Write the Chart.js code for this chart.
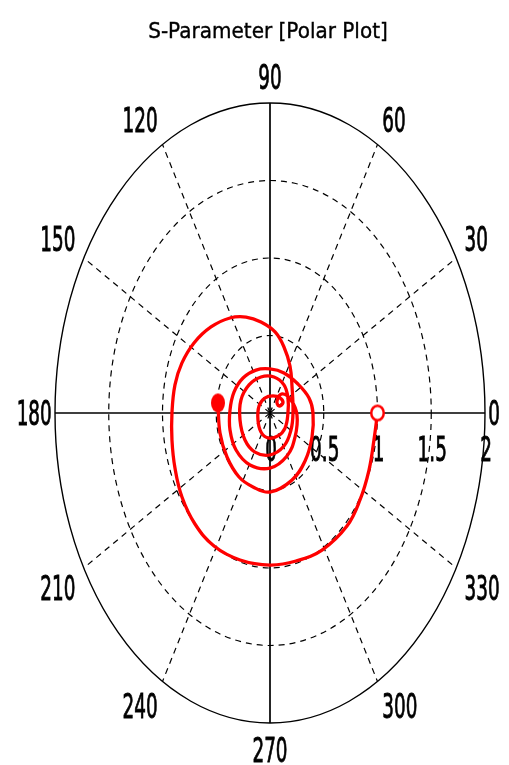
<!DOCTYPE html>
<html>
<head>
<meta charset="utf-8">
<script src="https://cdn.jsdelivr.net/npm/chart.js@4.4.1/dist/chart.umd.min.js"></script>
<style>
  html, body { margin: 0; padding: 0; background: #ffffff; }
  canvas { display: block; }
</style>
</head>
<body>
<canvas id="polar" width="509" height="765"></canvas>
<script>
// ---- chart content -------------------------------------------------------
const chartTitle = 'S-Parameter [Polar Plot]';
const angleTicks = [0, 30, 60, 90, 120, 150, 180, 210, 240, 270, 300, 330];
const radialTicks = [0, 0.5, 1, 1.5, 2];

// Reflection coefficient trace, real and imaginary parts (sweep order)
const s11Re = [
  1.000, 0.967, 0.921, 0.837, 0.716, 0.484, 0.242, 0.000, -0.279, -0.521,
  -0.698, -0.819, -0.884, -0.912, -0.912, -0.884, -0.819, -0.707, -0.549, -0.372,
  -0.223, -0.084, 0.047, 0.130, 0.186, 0.205, 0.214,
  0.195, 0.130, 0.000, -0.140, -0.233, -0.279, -0.270, -0.195, -0.084, 0.037,
  0.130, 0.167, 0.167,
  0.140, 0.074, -0.019, -0.084, -0.112, -0.102, -0.047, 0.028,
  0.093, 0.121, 0.084, 0.065, 0.112,
  0.195, 0.251, 0.233, 0.158, 0.000, -0.186, -0.316, -0.372, -0.372, -0.335,
  -0.251, -0.130, 0.000, 0.130, 0.260, 0.363, 0.400,
  0.391, 0.326, 0.205, 0.000, -0.158, -0.288, -0.400, -0.465, -0.484
];
const s11Im = [
  0.000, -0.174, -0.368, -0.561, -0.729, -0.884, -0.955, -0.981, -0.948, -0.858,
  -0.716, -0.542, -0.355, -0.174, 0.000, 0.181, 0.323, 0.452, 0.555, 0.613,
  0.619, 0.587, 0.523, 0.426, 0.303, 0.168, 0.000,
  -0.110, -0.213, -0.271, -0.252, -0.174, -0.045, 0.084, 0.181, 0.232, 0.232,
  0.181, 0.097, 0.000,
  -0.097, -0.148, -0.161, -0.123, -0.045, 0.045, 0.097, 0.110,
  0.097, 0.065, 0.045, 0.077, 0.123,
  0.084, -0.013, -0.155, -0.277, -0.355, -0.335, -0.239, -0.110, 0.019, 0.135,
  0.226, 0.277, 0.284, 0.258, 0.187, 0.097, 0.000,
  -0.155, -0.310, -0.432, -0.510, -0.477, -0.413, -0.284, -0.129, 0.065
];

// ---- helpers -------------------------------------------------------------
const tracePoints = s11Re.map((re, i) => ({ x: re, y: s11Im[i] }));
const firstPoint = [tracePoints[0]];
const lastPoint = [tracePoints[tracePoints.length - 1]];

function ellipseMarker(w, h, fill, stroke, lw) {
  const c = document.createElement('canvas');
  c.width = w + 2;
  c.height = h + 2;
  const g = c.getContext('2d');
  g.beginPath();
  g.ellipse(c.width / 2, c.height / 2, (w - lw) / 2, (h - lw) / 2, 0, 0, Math.PI * 2);
  g.fillStyle = fill;
  g.fill();
  if (lw > 0) {
    g.lineWidth = lw;
    g.strokeStyle = stroke;
    g.stroke();
  }
  return c;
}

const LABEL_FONT = '20px "DejaVu Sans", Verdana, sans-serif';
const LABEL_SX = 0.92, LABEL_SY = 1.71;
const DIGIT_H = 0.729 * 20; // cap height of the label font before stretching

// draws a stretched label whose box is centred on (cx, cy)
function drawLabel(ctx, text, cx, cy) {
  ctx.save();
  ctx.font = LABEL_FONT;
  ctx.fillStyle = '#000';
  ctx.strokeStyle = '#000';
  ctx.lineWidth = 0.55;
  ctx.textAlign = 'center';
  ctx.textBaseline = 'alphabetic';
  ctx.translate(cx, cy);
  ctx.scale(LABEL_SX, LABEL_SY);
  ctx.fillText(text, 0, DIGIT_H / 2);
  ctx.strokeText(text, 0, DIGIT_H / 2);
  ctx.restore();
}

function labelSize(ctx, text) {
  ctx.save();
  ctx.font = LABEL_FONT;
  const w = ctx.measureText(text).width * LABEL_SX;
  ctx.restore();
  return { w, h: DIGIT_H * LABEL_SY };
}

// ---- polar frame plugin --------------------------------------------------
const polarFrame = {
  id: 'polarFrame',
  beforeDatasetsDraw(chart) {
    const { ctx } = chart;
    const xs = chart.scales.x, ys = chart.scales.y;
    const cx = xs.getPixelForValue(0), cy = ys.getPixelForValue(0);
    const rMax = radialTicks[radialTicks.length - 1];
    const rx = r => xs.getPixelForValue(r) - cx;
    const ry = r => cy - ys.getPixelForValue(r);
    const pt = (r, deg) => {
      const a = deg * Math.PI / 180;
      return [xs.getPixelForValue(r * Math.cos(a)), ys.getPixelForValue(r * Math.sin(a))];
    };

    ctx.save();
    ctx.strokeStyle = '#000';

    // dashed magnitude rings
    ctx.lineWidth = 1.2;
    ctx.setLineDash([6, 5]);
    radialTicks.forEach(r => {
      if (r <= 0 || r >= rMax) return;
      ctx.beginPath();
      ctx.ellipse(cx, cy, rx(r), ry(r), 0, 0, Math.PI * 2);
      ctx.stroke();
    });

    // dashed phase spokes
    angleTicks.forEach(a => {
      if (a % 90 === 0) return;
      const [px, py] = pt(rMax, a);
      ctx.beginPath();
      ctx.moveTo(cx, cy);
      ctx.lineTo(px, py);
      ctx.stroke();
    });

    // solid outer ring and the two axes
    ctx.setLineDash([]);
    ctx.lineWidth = 1.4;
    ctx.beginPath();
    ctx.ellipse(cx, cy, rx(rMax), ry(rMax), 0, 0, Math.PI * 2);
    ctx.stroke();

    ctx.lineWidth = 1.7;
    ctx.beginPath();
    let p = pt(rMax, 0), q = pt(rMax, 180);
    ctx.moveTo(p[0], p[1]); ctx.lineTo(q[0], q[1]);
    p = pt(rMax, 90); q = pt(rMax, 270);
    ctx.moveTo(p[0], p[1]); ctx.lineTo(q[0], q[1]);
    ctx.stroke();
    ctx.restore();

    // magnitude tick labels along the 0-degree axis
    radialTicks.forEach(r => {
      drawLabel(ctx, String(r), xs.getPixelForValue(r) + 1, cy + 36);
    });

    // phase labels just outside the outer ring
    angleTicks.forEach(a => {
      const txt = String(a);
      const { w, h } = labelSize(ctx, txt);
      const gap = (a % 180 === 0) ? 1.015 : 1.045;
      const [ax, ay] = pt(rMax * gap, a);
      const c = Math.cos(a * Math.PI / 180), s = Math.sin(a * Math.PI / 180);
      let lx = ax, ly = ay;
      if (c > 0.01) lx = ax + w / 2; else if (c < -0.01) lx = ax - w / 2;
      if (s > 0.01) ly = ay - h / 2; else if (s < -0.01) ly = ay + h / 2;
      drawLabel(ctx, txt, lx, ly);
    });

    // title
    ctx.save();
    ctx.font = '20px "DejaVu Sans", Verdana, sans-serif';
    ctx.fillStyle = '#000';
    ctx.strokeStyle = '#000';
    ctx.lineWidth = 0.35;
    ctx.textAlign = 'center';
    ctx.textBaseline = 'alphabetic';
    ctx.translate(268, 37.5);
    ctx.scale(1, 1.1);
    ctx.fillText(chartTitle, 0, 0);
    ctx.strokeText(chartTitle, 0, 0);
    ctx.restore();
  }
};

// ---- chart ---------------------------------------------------------------
new Chart(document.getElementById('polar'), {
  type: 'scatter',
  data: {
    datasets: [
      {
        label: 'start',
        data: firstPoint,
        pointStyle: ellipseMarker(15, 17, '#ffffff', '#ff0000', 2.5),
        pointRadius: 8,
        showLine: false
      },
      {
        label: 'end',
        data: lastPoint,
        pointStyle: ellipseMarker(14, 19, '#ff0000', '#ff0000', 0),
        pointRadius: 8,
        showLine: false
      },
      {
        label: 'S11',
        data: tracePoints,
        showLine: true,
        borderColor: '#ff0000',
        borderWidth: 3.3,
        pointRadius: 0,
        tension: 0.4,
        fill: false
      }
    ]
  },
  options: {
    responsive: false,
    animation: false,
    devicePixelRatio: 1,
    layout: { padding: { left: 55, right: 24, top: 103, bottom: 42 } },
    scales: {
      x: { type: 'linear', min: -2, max: 2, display: false },
      y: { type: 'linear', min: -2, max: 2, display: false }
    },
    plugins: {
      legend: { display: false },
      title: { display: false },
      tooltip: { enabled: false }
    }
  },
  plugins: [polarFrame]
});
</script>
</body>
</html>
